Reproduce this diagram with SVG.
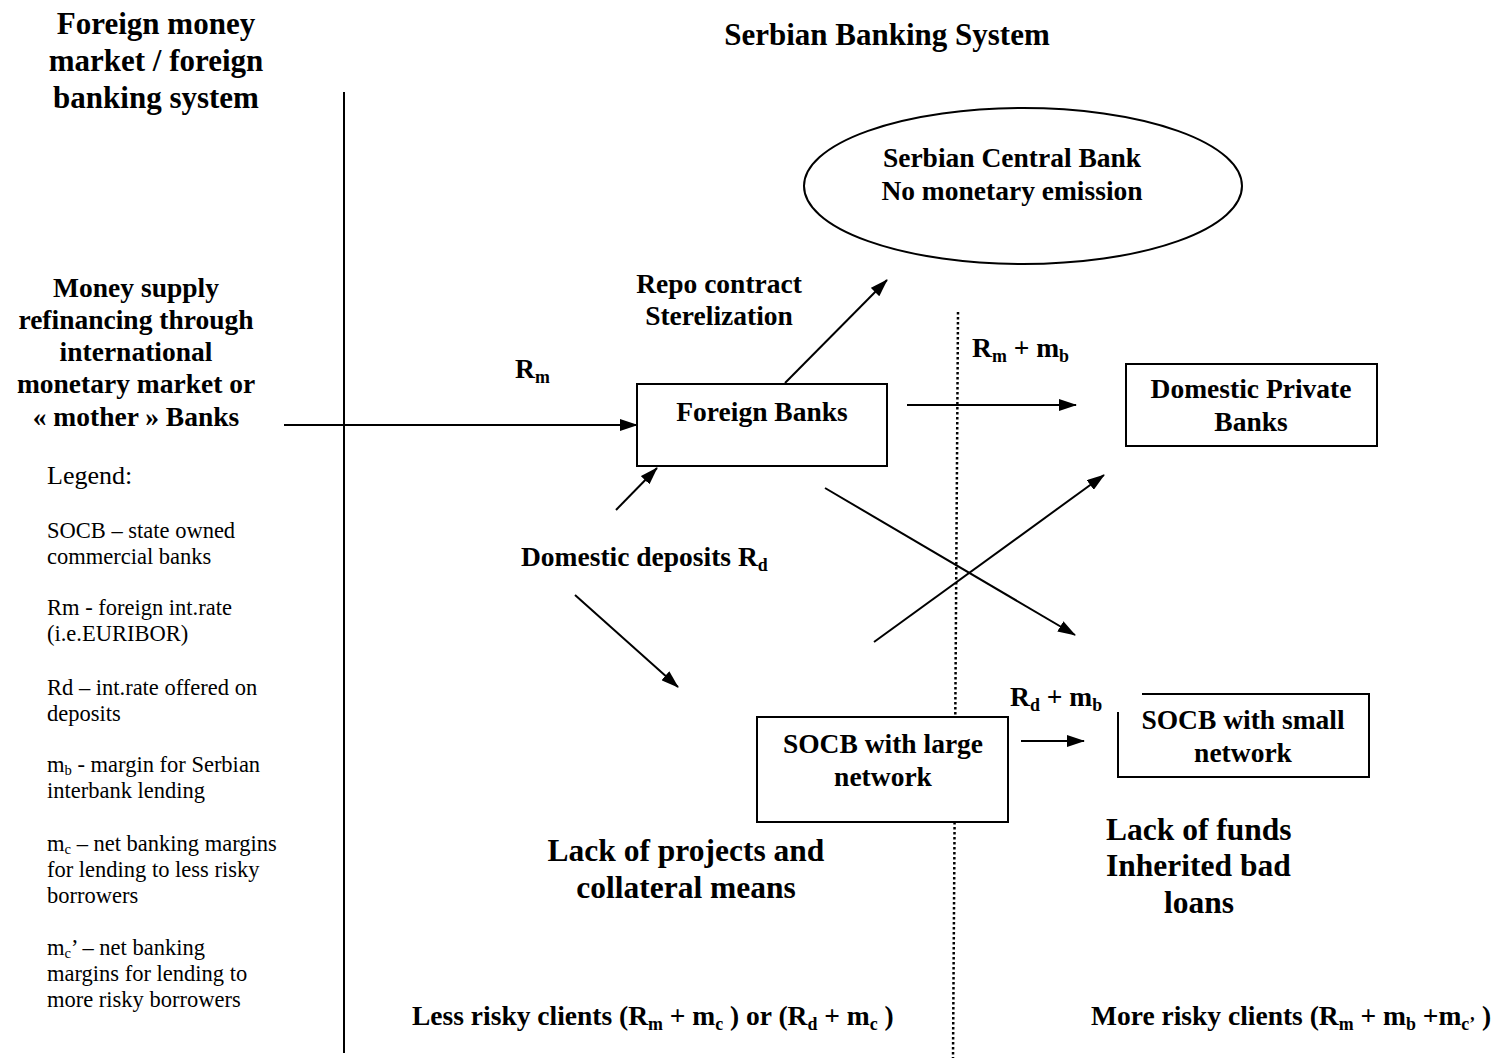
<svg xmlns="http://www.w3.org/2000/svg" width="1503" height="1061" viewBox="0 0 1503 1061">
<defs>
<marker id="ah" viewBox="0 0 18 12" refX="17" refY="6" markerWidth="18" markerHeight="12" markerUnits="userSpaceOnUse" orient="auto">
<path d="M0,0 L18,6 L0,12 Z" fill="#000"/>
</marker>
</defs>
<style>
.b{font-family:"Liberation Serif",serif;font-weight:bold;fill:#000}
.r{font-family:"Liberation Serif",serif;fill:#000}
.t{font-size:31px}
.m{font-size:27.5px}
.l{font-size:31.5px}
.g{font-size:22.5px}
.s{font-size:65%}
.box{fill:#fff;stroke:#000;stroke-width:2}
.ln{stroke:#000;stroke-width:2;fill:none}
.ar{stroke:#000;stroke-width:2;fill:none;marker-end:url(#ah)}
</style>
<rect width="1503" height="1061" fill="#fff"/>

<g id="dividers">
<line class="ln" x1="344" y1="92" x2="344" y2="1053"/>
<line x1="958" y1="312" x2="953" y2="1058" stroke="#000" stroke-width="2.5" stroke-dasharray="2.5,2.5"/>
</g>

<g id="titles">
<text class="b t" text-anchor="middle" x="156" y="34">Foreign money</text>
<text class="b t" text-anchor="middle" x="156" y="71">market / foreign</text>
<text class="b t" text-anchor="middle" x="156" y="108">banking system</text>
<text class="b t" text-anchor="middle" x="887" y="45">Serbian Banking System</text>
</g>

<g id="money-supply">
<text class="b m" text-anchor="middle" x="136" y="297">Money supply</text>
<text class="b m" text-anchor="middle" x="136" y="329">refinancing through</text>
<text class="b m" text-anchor="middle" x="136" y="361">international</text>
<text class="b m" text-anchor="middle" x="136" y="393">monetary market or</text>
<text class="b m" text-anchor="middle" x="136" y="426">« mother » Banks</text>
</g>

<g id="central-bank">
<ellipse cx="1023" cy="186" rx="219" ry="78" class="box"/>
<text class="b m" text-anchor="middle" x="1012" y="167">Serbian Central Bank</text>
<text class="b m" text-anchor="middle" x="1012" y="200">No monetary emission</text>
</g>

<g id="foreign-banks">
<rect x="637" y="384" width="250" height="82" class="box"/>
<text class="b m" text-anchor="middle" x="762" y="421">Foreign Banks</text>
</g>

<g id="domestic-private-banks">
<rect x="1126" y="364" width="251" height="82" class="box"/>
<text class="b m" text-anchor="middle" x="1251" y="398">Domestic Private</text>
<text class="b m" text-anchor="middle" x="1251" y="431">Banks</text>
</g>

<g id="socb-large">
<rect x="757" y="717" width="251" height="105" class="box"/>
<text class="b m" text-anchor="middle" x="883" y="753">SOCB with large</text>
<text class="b m" text-anchor="middle" x="883" y="786">network</text>
</g>

<g id="socb-small">
<path d="M1142,694 L1369,694 L1369,777 L1118,777 L1118,712" class="ln"/>
<text class="b m" text-anchor="middle" x="1243" y="729">SOCB with small</text>
<text class="b m" text-anchor="middle" x="1243" y="762">network</text>
</g>

<g id="connectors">
<line class="ar" x1="284" y1="425" x2="637" y2="425"/>
<line class="ar" x1="785" y1="383" x2="887" y2="280"/>
<line class="ar" x1="907" y1="405" x2="1076" y2="405"/>
<line class="ar" x1="616" y1="510" x2="657" y2="468"/>
<line class="ar" x1="575" y1="595" x2="678" y2="687"/>
<line class="ar" x1="825" y1="488" x2="1075" y2="635"/>
<line class="ar" x1="874" y1="642" x2="1104" y2="475"/>
<line class="ar" x1="1021" y1="741" x2="1084" y2="741"/>
</g>

<g id="labels">
<text class="b m" x="515" y="378">R<tspan class="s" dy="5">m</tspan></text>
<text class="b m" text-anchor="middle" x="719" y="293">Repo contract</text>
<text class="b m" text-anchor="middle" x="719" y="325">Sterelization</text>
<text class="b m" x="972" y="357">R<tspan class="s" dy="5">m</tspan><tspan dy="-5"> + m</tspan><tspan class="s" dy="5">b</tspan></text>
<text class="b m" x="521" y="566">Domestic deposits R<tspan class="s" dy="5">d</tspan></text>
<text class="b m" x="1010" y="706">R<tspan class="s" dy="5">d</tspan><tspan dy="-5"> + m</tspan><tspan class="s" dy="5">b</tspan></text>
<text class="b l" text-anchor="middle" x="686" y="861">Lack of projects and</text>
<text class="b l" text-anchor="middle" x="686" y="898">collateral means</text>
<text class="b l" x="1106" y="840">Lack of funds</text>
<text class="b l" x="1106" y="876">Inherited bad</text>
<text class="b l" text-anchor="middle" x="1199" y="913">loans</text>
<text class="b m" x="412" y="1025">Less risky clients (R<tspan class="s" dy="5">m</tspan><tspan dy="-5"> + m</tspan><tspan class="s" dy="5">c</tspan><tspan dy="-5"> ) or (R</tspan><tspan class="s" dy="5">d</tspan><tspan dy="-5"> + m</tspan><tspan class="s" dy="5">c</tspan><tspan dy="-5"> )</tspan></text>
<text class="b m" x="1091" y="1025">More risky clients (R<tspan class="s" dy="5">m</tspan><tspan dy="-5"> + m</tspan><tspan class="s" dy="5">b</tspan><tspan dy="-5"> +m</tspan><tspan class="s" dy="5">c’</tspan><tspan dy="-5"> )</tspan></text>
</g>

<g id="legend">
<text class="r" font-size="26" x="47" y="484">Legend:</text>
<text class="r g" x="47" y="538">SOCB – state owned</text>
<text class="r g" x="47" y="564">commercial banks</text>
<text class="r g" x="47" y="615">Rm - foreign int.rate</text>
<text class="r g" x="47" y="641">(i.e.EURIBOR)</text>
<text class="r g" x="47" y="695">Rd – int.rate offered on</text>
<text class="r g" x="47" y="721">deposits</text>
<text class="r g" x="47" y="772">m<tspan class="s" dy="3">b</tspan><tspan dy="-3">  - margin for Serbian</tspan></text>
<text class="r g" x="47" y="798">interbank lending</text>
<text class="r g" x="47" y="851">m<tspan class="s" dy="3">c</tspan><tspan dy="-3"> – net banking margins</tspan></text>
<text class="r g" x="47" y="877">for lending to less risky</text>
<text class="r g" x="47" y="903">borrowers</text>
<text class="r g" x="47" y="955">m<tspan class="s" dy="3">c</tspan><tspan dy="-3">’ – net banking</tspan></text>
<text class="r g" x="47" y="981">margins for lending to</text>
<text class="r g" x="47" y="1007">more risky borrowers</text>
</g>
</svg>
